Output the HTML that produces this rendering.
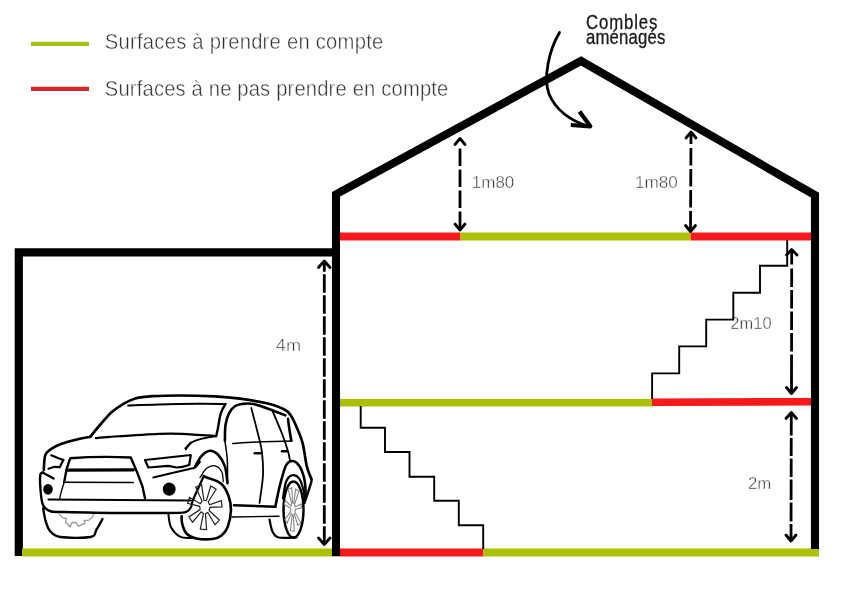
<!DOCTYPE html>
<html><head><meta charset="utf-8">
<style>
html,body{margin:0;padding:0;background:#fff;width:850px;height:600px;overflow:hidden}
svg{display:block;will-change:transform}
text{font-family:"Liberation Sans",sans-serif}
</style></head>
<body>
<svg width="850" height="600" viewBox="0 0 850 600">
<!-- legend -->
<line x1="31" y1="43.9" x2="89" y2="43.9" stroke="#a8c01a" stroke-width="4.3"/>
<line x1="31" y1="88.8" x2="89" y2="88.8" stroke="#d92424" stroke-width="4.3"/>
<text transform="translate(104.8 48.6) scale(0.92 1)" x="0" y="0" font-size="22" fill="#333" stroke="#fff" stroke-width="0.45" textLength="302.7" lengthAdjust="spacing">Surfaces à prendre en compte</text>
<text transform="translate(104.8 96) scale(0.92 1)" x="0" y="0" font-size="22" fill="#333" stroke="#fff" stroke-width="0.45" textLength="373.4" lengthAdjust="spacing">Surfaces à ne pas prendre en compte</text>

<!-- garage -->
<path d="M18.8 556 L18.8 252.3 L336 252.3" fill="none" stroke="#000" stroke-width="8.2" stroke-linejoin="miter"/>

<!-- floors -->
<line x1="22" y1="552.5" x2="332" y2="552.5" stroke="#abc000" stroke-width="7.8"/>
<line x1="340" y1="552.5" x2="483.5" y2="552.5" stroke="#f81a1a" stroke-width="7.8"/>
<line x1="483.5" y1="552.5" x2="819" y2="552.5" stroke="#abc000" stroke-width="7.8"/>

<line x1="340" y1="402.7" x2="652" y2="402.7" stroke="#abc000" stroke-width="7.6"/>
<line x1="652" y1="402.2" x2="811" y2="401.8" stroke="#f81a1a" stroke-width="7.6"/>

<line x1="340" y1="236.5" x2="460.5" y2="236.5" stroke="#f81a1a" stroke-width="8"/>
<line x1="460.5" y1="236.5" x2="690.7" y2="236.5" stroke="#abc000" stroke-width="8"/>
<line x1="690.7" y1="236.5" x2="811" y2="236.5" stroke="#f81a1a" stroke-width="8"/>

<!-- house outline -->
<path d="M336 556.3 L336 194.3 L581 61 L815 195.2 L815 549" fill="none" stroke="#000" stroke-width="8.1" stroke-linejoin="miter" stroke-miterlimit="10"/>

<!-- labels -->
<g fill="#333" stroke="#fff" stroke-width="0.45" font-size="17">
  <text x="471.8" y="187.8" textLength="42.5" lengthAdjust="spacingAndGlyphs">1m80</text>
  <text x="635" y="187.8" textLength="42.8" lengthAdjust="spacingAndGlyphs">1m80</text>
  <text x="275.8" y="350.8" textLength="25.2" lengthAdjust="spacingAndGlyphs">4m</text>
  <text x="730.3" y="329" textLength="41.3" lengthAdjust="spacingAndGlyphs">2m10</text>
  <text x="748" y="489" textLength="23.3" lengthAdjust="spacingAndGlyphs">2m</text>
</g>

<!-- stairs -->
<path d="M360.7 406 V427.7 H385 V452 H409.5 V476.7 H434.2 V500.8 H458.8 V525.2 H483.2 V549" fill="none" stroke="#000" stroke-width="1.9"/>
<path d="M652.1 399 V373.4 H679.2 V346.4 H706.2 V319.6 H733.3 V292.7 H760 V265.7 H787.2 V240" fill="none" stroke="#000" stroke-width="1.9"/>

<!-- dimension arrows -->
<g fill="none" stroke="#000" stroke-width="2.8" stroke-linecap="round" stroke-linejoin="round">
  <!-- 1m80 left -->
  <path d="M455 144.5 L460 138.5 L465 144.5 M455 224 L460 230 L465 224"/>
  <line x1="460" y1="138.5" x2="460" y2="230" stroke-dasharray="0 10 17.5 3.5 17.5 3.5 17.5 3.5 30" stroke-linecap="butt"/>
  <!-- 1m80 right -->
  <path d="M686 138 L691 132 L696 138 M685.5 225.5 L690.5 231.5 L695.5 225.5"/>
  <line x1="691" y1="132" x2="690.5" y2="231.5" stroke-dasharray="12 4 17.5 3.5 17.5 3.5 17.5 3.5 30" stroke-linecap="butt"/>
  <!-- 4m -->
  <path d="M318.5 267.5 L324.3 261 L330 267.5 M318.5 538 L324.3 544.5 L330 538"/>
  <line x1="324.3" y1="261" x2="324.3" y2="544.5" stroke-dasharray="10.7 2.5 18.5 2.5 18.5 2.5 18.5 2.5 18.5 2.5 18.5 2.5 18.5 2.5 18.5 2.5 18.5 2.5 18.5 2.5 18.5 2.5 18.5 2.5 18.5 2.5 30" stroke-linecap="butt"/>
  <!-- 2m10 -->
  <path d="M786.5 255 L791.7 249.5 L797 255 M786.5 387.5 L791.5 393.5 L796.5 387.5"/>
  <line x1="791.7" y1="249.5" x2="791.5" y2="393.5" stroke-dasharray="15 4 18.5 3 18.5 3 18.5 3 18.5 3 60" stroke-linecap="butt"/>
  <!-- 2m -->
  <path d="M786 418.5 L791.3 412.5 L796.5 418.5 M786 535 L791 541 L796 535"/>
  <line x1="791.3" y1="412.5" x2="791" y2="541" stroke-dasharray="23 2.5 18 2.5 18.5 2.5 20.5 2.5 19 2.5 40" stroke-linecap="butt"/>
</g>

<!-- combles -->
<g fill="#1a1a1a" stroke="#1a1a1a" stroke-width="0.3" font-size="19.5">
  <text transform="translate(586 28.5) scale(0.86 1)" x="0" y="0" textLength="83.1" lengthAdjust="spacing">Combles</text>
  <text transform="translate(586 43.8) scale(0.86 1)" x="0" y="0" textLength="92.4" lengthAdjust="spacing">aménagés</text>
</g>
<path d="M559.5 32.5 C549 50 543 78 549 94 C555 108 568 120 589 126.5" fill="none" stroke="#000" stroke-width="2.8" stroke-linecap="round"/>
<path d="M579.5 111.5 L590.3 126.3 L570.8 125" fill="none" stroke="#000" stroke-width="4.2" stroke-linecap="butt" stroke-linejoin="round"/>

<!-- car -->
<g id="car" fill="none" stroke="#000" stroke-width="2.3" stroke-linecap="round" stroke-linejoin="round">
<path d="M43.8 470.0 C43.9 468.6 44.0 464.1 44.3 461.5 C44.6 458.9 44.5 456.5 45.6 454.4 C46.7 452.3 48.2 450.9 50.9 449.1 C53.5 447.3 57.5 445.3 61.5 443.8 C65.5 442.3 69.9 441.1 74.7 439.9 C79.5 438.7 87.6 437.3 90.2 436.8" stroke-width="2.6"/>
<path d="M90.2 436.8 C91.8 434.8 96.4 429.1 100.0 425.0 C103.6 420.9 107.9 415.5 111.8 412.0 C115.7 408.5 119.6 406.1 123.5 403.8 C127.4 401.6 130.4 399.8 135.3 398.5 C140.2 397.2 145.5 396.7 152.9 396.2 C160.3 395.7 169.7 395.5 180.0 395.5 C190.3 395.5 205.0 395.9 215.0 396.4 C225.0 396.9 231.4 397.5 240.0 398.7 C248.6 399.9 259.4 401.5 266.7 403.3 C274.0 405.1 280.0 407.3 284.0 409.3 C288.0 411.3 288.5 412.1 290.7 415.3 C292.9 418.5 295.3 424.0 297.3 428.7 C299.3 433.4 301.1 437.0 302.7 443.3 C304.3 449.6 305.4 460.4 306.8 466.3 C308.2 472.2 310.5 476.5 311.2 478.5" stroke-width="2.7"/>
<path d="M311.2 478.5 C311.2 478.9 311.9 478.9 311.5 481.0 C311.1 483.1 309.5 487.8 308.5 491.0 C307.5 494.2 306.0 498.5 305.5 500.0" stroke-width="2.4"/>
<path d="M128.2 405.6 C133.3 405.4 146.8 404.7 158.8 404.4 C170.8 404.1 188.9 403.9 200.0 403.8 C211.1 403.7 221.2 404.0 225.5 404.0" stroke-width="2.0"/>
<path d="M225.5 404.0 C224.7 405.6 222.1 409.2 220.8 413.3 C219.5 417.4 218.7 424.7 217.9 428.5 C217.1 432.3 216.5 434.8 216.2 436.1" stroke-width="2.4"/>
<path d="M95.9 438.1 C98.2 437.9 99.5 437.5 110.0 436.8 C120.5 436.1 146.7 434.3 158.8 433.8 C170.9 433.3 172.8 433.4 182.4 433.8 C192.0 434.2 210.6 435.7 216.2 436.1" stroke-width="2.2"/>
<path d="M216.2 436.1 C214.0 436.5 207.4 437.3 203.3 438.4 C199.2 439.5 194.6 440.6 191.7 442.5 C188.8 444.4 186.8 448.3 185.8 449.5" stroke-width="1.8"/>
<path d="M224.9 440.8 C225.0 438.2 224.8 429.6 225.5 425.0 C226.2 420.4 227.4 416.4 229.0 413.3 C230.6 410.2 232.7 407.9 234.8 406.3 C236.9 404.8 238.7 404.4 241.8 404.0 C244.9 403.6 248.1 402.9 253.3 404.0 C258.6 405.1 268.0 408.8 273.3 410.7 C278.6 412.6 283.3 414.5 285.3 415.3" stroke-width="2.6"/>
<path d="M224.9 440.8 C225.3 444.0 226.9 452.9 227.3 460.0 C227.7 467.1 227.5 479.4 227.5 483.3" stroke-width="1.5"/>
<path d="M232.6 443.5 C237.5 443.2 252.1 442.2 262.0 441.8 C271.9 441.4 286.8 441.1 291.8 441.0" stroke-width="1.5"/>
<path d="M288.0 418.7 C288.2 420.6 288.9 426.3 289.5 430.0 C290.1 433.7 291.0 438.9 291.3 440.7" stroke-width="2.6"/>
<path d="M251.3 408.0 C252.5 412.8 256.9 429.2 258.7 436.7 C260.5 444.1 261.3 446.3 262.0 452.7 C262.7 459.1 263.4 466.6 263.0 475.0 C262.6 483.4 260.1 498.3 259.5 503.0" stroke-width="1.8"/>
<path d="M272.7 411.3 C274.4 415.3 280.1 428.6 282.7 435.3 C285.2 442.0 286.8 447.1 288.0 451.3 C289.2 455.5 289.7 459.1 290.0 460.7" stroke-width="1.8"/>
<path d="M254.7 453.3 C255.6 453.3 259.1 453.3 260.0 453.3" stroke-width="2.4"/>
<path d="M282.0 451.3 C282.8 451.3 285.9 451.3 286.7 451.3" stroke-width="2.4"/>
<path d="M51.3 455.3 C53.3 456.1 61.3 459.2 63.3 460.0" stroke-width="2.2"/>
<path d="M63.3 460 L59.7 467.2 L54.5 466.8 L48.5 468.7" stroke-width="2.2"/>
<path d="M64.2 482.2 L66.5 469.5 L70.2 458.2 Q100 456 130.8 457.5 L137.5 473.3 L142.5 486.7 L145 498.3" stroke-width="2.4"/>
<path d="M64.2 482.2 C63.7 483.8 62.0 489.2 61.2 492.0 C60.5 494.8 60.0 497.6 59.7 498.7" stroke-width="1.3"/>
<path d="M67.2 470.2 L133.3 469.8" stroke-width="3.3"/>
<path d="M65 482.3 L133.3 482.5" stroke-width="1.6"/>
<path d="M42.5 472.5 L53.7 478.5" stroke-width="2.2"/>
<path d="M43.2 472.5 C42.7 473.0 40.6 471.8 40.2 475.5 C39.8 479.2 40.5 490.0 41.0 495.0 C41.5 500.0 42.1 503.0 43.2 505.5 C44.3 508.0 46.3 509.0 47.7 510.0 C49.1 511.0 50.9 511.2 51.5 511.5" stroke-width="2.4"/>
<ellipse cx="48" cy="489.3" rx="4.8" ry="5.4" fill="#000" stroke="none"/>
<ellipse cx="169.2" cy="489.2" rx="6.4" ry="6.6" fill="#000" stroke="none"/>
<path d="M48.5 499.5 L190.8 500.5" stroke-width="2.2"/>
<path d="M51.5 511.8 C62.1 512.0 93.6 512.8 115.0 513.0 C136.4 513.2 169.2 512.9 180.0 512.9" stroke-width="2.4"/>
<path d="M145 460 L190.8 455 L189.2 465 Q182 467.5 176.7 467.5 L168.3 465.8 L148.3 467.5 Z" stroke-width="2.2"/>
<path d="M153.3 477.5 C159.1 476.1 181.4 470.9 188.3 469.2 C195.2 467.5 193.1 468.8 195.0 467.5 C196.9 466.2 199.2 462.7 200.0 461.7" stroke-width="2.0"/>
<path d="M43.2 508.5 C43.6 510.5 44.4 516.8 45.5 520.5 C46.6 524.2 47.5 528.2 50.0 531.0 C52.5 533.8 53.8 536.0 60.5 537.0 C67.2 538.0 84.5 538.2 90.5 537.0 C96.5 535.8 94.5 532.5 96.5 529.5 C98.5 526.5 101.5 520.8 102.5 519.0" stroke-width="2.4"/>
<path d="M185.0 448.3 C186.0 447.2 190.0 443.1 191.0 442.0" stroke-width="1.5"/>
<path d="M195.0 466.7 C196.1 464.9 199.2 458.4 201.7 455.8 C204.2 453.2 207.2 450.9 210.0 450.8 C212.8 450.7 215.8 452.4 218.3 455.0 C220.8 457.6 223.5 462.0 225.0 466.7 C226.5 471.4 227.1 480.5 227.5 483.3" stroke-width="2.6"/>
<path d="M200.0 477.5 C201.1 476.0 204.2 470.2 206.7 468.3 C209.2 466.4 212.5 465.2 215.0 465.8 C217.5 466.4 220.3 469.1 221.7 471.7 C223.1 474.3 223.0 480.0 223.3 481.7" stroke-width="1.3"/>
<path d="M203.8 476.0 C204.2 476.2 203.1 475.9 206.0 477.2 C208.9 478.5 217.4 480.4 221.2 483.7 C225.0 486.9 227.2 492.2 228.8 496.7 C230.4 501.2 231.1 505.8 230.9 510.8 C230.7 515.9 229.3 522.9 227.7 527.0 C226.1 531.1 223.7 533.7 221.2 535.7 C218.7 537.7 216.7 538.5 212.5 539.0 C208.3 539.5 200.6 539.3 196.3 538.4 C192.0 537.5 188.8 535.9 186.5 533.5 C184.2 531.1 183.0 526.7 182.2 523.8 C181.4 520.9 181.7 517.5 181.6 516.2" stroke-width="2.6"/>
<path d="M180.0 512.9 C181.1 512.7 184.7 512.7 186.5 511.8 C188.3 510.9 189.7 509.5 190.8 507.5 C191.9 505.5 191.7 503.1 193.0 499.9 C194.3 496.6 196.6 492.0 198.4 488.0 C200.2 484.0 202.9 478.0 203.8 476.0" stroke-width="2.2"/>
<path d="M168.3 513.3 C168.7 515.5 168.9 522.8 170.8 526.7 C172.8 530.6 176.5 534.8 180.0 536.7 C183.5 538.6 189.8 537.8 191.7 538.0" stroke-width="2.0"/>
<path d="M234 505.3 L275.5 506.7" stroke-width="2.6"/>
<path d="M232 517 L279 516.3" stroke-width="1.4"/>
<path d="M275.5 506.0 C276.2 502.5 278.2 491.8 280.0 485.0 C281.8 478.2 283.9 469.5 286.0 465.5 C288.1 461.5 290.4 460.9 292.7 461.0 C294.9 461.1 297.6 463.4 299.5 466.2 C301.4 468.9 303.0 473.6 304.0 477.5 C305.0 481.4 305.4 485.5 305.5 489.5 C305.6 493.5 304.8 499.5 304.7 501.5" stroke-width="2.6"/>
<path d="M283.0 498.5 C283.5 495.8 284.5 485.9 286.0 482.0 C287.5 478.1 289.8 475.7 292.0 475.2 C294.2 474.7 297.5 476.1 299.5 479.0 C301.5 481.9 303.1 488.5 304.0 492.5 C304.9 496.5 304.6 501.2 304.7 503.0" stroke-width="2.2"/>
<ellipse cx="293.5" cy="509.5" rx="10" ry="28" stroke-width="2.5"/>
<path d="M269.5 519.5 C270.0 521.5 271.0 528.5 272.5 531.5 C274.0 534.5 274.5 536.5 278.5 537.5 C282.5 538.5 293.5 537.5 296.5 537.5" stroke-width="2.2"/>
<path d="M205.4 513.7 L206.6 529.7 L200.3 529.2 L203.4 513.5 L201.2 511.8 L192.5 522.2 L188.9 517.0 L200.1 509.6 L199.7 506.3 L187.6 503.3 L189.5 497.3 L200.3 503.7 L202.1 501.3 L195.7 487.1 L201.6 484.9 L203.9 500.3 L206.4 500.6 L210.7 486.0 L216.1 489.2 L208.2 502.0 L209.6 504.7 L221.2 500.6 L222.1 506.9 L209.9 507.4 L209.1 510.5 L219.4 520.1 L215.0 524.7 L207.8 512.5Z" stroke="#222" stroke-width="1.2" stroke-linejoin="miter"/>
<path d="M293.3 515.1 L294.3 531.1 L290.3 530.8 L292.3 514.9 L291.3 513.4 L287.1 523.0 L284.8 519.6 L290.8 511.4 L290.6 508.4 L284.3 504.3 L285.5 500.5 L290.9 506.0 L291.7 503.8 L288.1 489.2 L291.8 487.8 L292.6 502.9 L293.8 503.2 L295.6 489.0 L299.0 491.0 L294.6 504.4 L295.2 506.9 L301.1 503.9 L301.7 507.8 L295.4 509.3 L295.0 512.2 L300.6 522.6 L297.8 525.5 L294.4 514.0Z" stroke="#888" stroke-width="1.1" stroke-linejoin="miter"/>
<path d="M59.7 514.7 L62.9 518.0 L66.2 518.6 L65.5 522.2 L70.1 527.0 L72.0 522.5 L75.9 522.5 L78.5 526.4 L85.0 523.1 L84.3 520.5 L88.8 520.2 L92.1 517.3 L93.4 514.7" stroke="#999" stroke-width="1.3" stroke-linejoin="miter"/>

</g>
</svg>
</body></html>
